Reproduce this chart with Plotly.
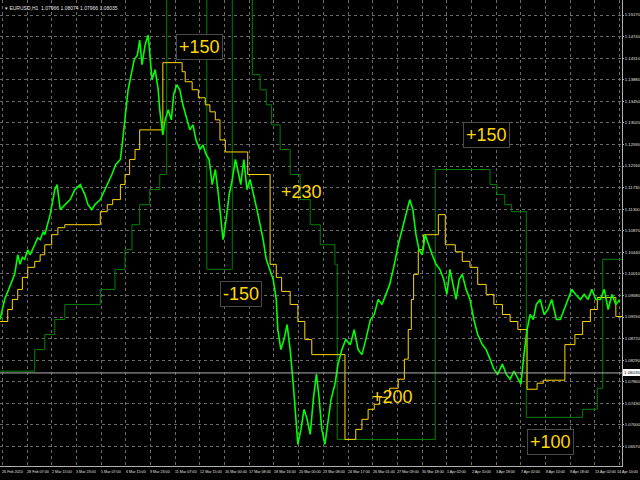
import plotly.graph_objects as go

# ---------------- data (bar index on x, price on y) ----------------
close_bar = [0, 6, 19, 23, 26, 29, 32, 36, 39, 45, 49, 52, 56, 58, 62, 65, 71, 74, 78, 84, 91, 97, 104, 110, 114,
             119, 123, 130, 133, 140, 145, 150, 156, 159, 162, 166, 170, 174, 178, 181, 184, 188, 192, 194, 197,
             201, 205, 207, 211, 214, 218, 222, 225, 229, 233, 237, 241, 246, 250, 254, 259, 263, 267, 271, 275,
             279, 283, 286, 289, 293, 297, 301, 305, 308, 312, 316, 320, 324, 329, 333, 337, 341, 345, 350, 354,
             358, 360, 364, 368, 372, 376, 380, 384, 386, 390, 394, 398, 402, 406, 410, 413, 417, 421, 425, 429,
             434, 438, 443, 448, 454, 459, 464, 469, 474, 480, 485, 490, 495, 500, 505, 511, 516, 521, 526, 531,
             535, 539, 543, 547, 551, 555, 560, 565, 570, 575, 579, 583, 587, 591, 595, 599, 604, 609, 614, 619,
             625, 630, 635, 640, 645, 651, 656, 661, 666, 671, 675, 679, 683, 687, 691, 695, 700, 705, 710, 715,
             721, 726, 731, 736, 741, 746, 752, 757, 762, 767, 772, 778, 783, 788, 793, 798, 803]
close_px = [1.0910, 1.0950, 1.1000, 1.1039, 1.1020, 1.1034, 1.1030, 1.1049, 1.1039, 1.1059, 1.1073, 1.1069,
            1.1085, 1.1079, 1.1105, 1.1119, 1.1169, 1.1179, 1.1129, 1.1139, 1.1149, 1.1169, 1.1179, 1.1159,
            1.1139, 1.1129, 1.1139, 1.1149, 1.1159, 1.1179, 1.1199, 1.1219, 1.1229, 1.1268, 1.1308, 1.1368,
            1.1398, 1.1428, 1.1437, 1.1467, 1.1418, 1.1457, 1.1477, 1.1437, 1.1388, 1.1408, 1.1368, 1.1328,
            1.1278, 1.1308, 1.1328, 1.1308, 1.1358, 1.1378, 1.1368, 1.1338, 1.1318, 1.1288, 1.1298, 1.1268,
            1.1249, 1.1258, 1.1239, 1.1229, 1.1179, 1.1209, 1.1159, 1.1119, 1.1069, 1.1109, 1.1159, 1.1189,
            1.1229, 1.1209, 1.1179, 1.1229, 1.1169, 1.1189, 1.1159, 1.1129, 1.1099, 1.1069, 1.1030, 1.1010,
            1.0990, 1.0950, 1.0890, 1.0850, 1.0870, 1.0900, 1.0850, 1.0781, 1.0711, 1.0661, 1.0691, 1.0731,
            1.0711, 1.0681, 1.0751, 1.0801, 1.0761, 1.0691, 1.0661, 1.0711, 1.0751, 1.0781, 1.0821, 1.0850,
            1.0870, 1.0860, 1.0890, 1.0850, 1.0840, 1.0870, 1.0910, 1.0920, 1.0950, 1.0940, 1.0960, 1.0980,
            1.1020, 1.1059, 1.1089, 1.1119, 1.1149, 1.1129, 1.1079, 1.1049, 1.1039, 1.1079, 1.1059, 1.1039,
            1.1020, 1.1010, 1.0990, 1.0960, 1.1010, 1.0980, 1.0950, 1.0990, 1.1000, 1.0970, 1.0950, 1.0910,
            1.0880, 1.0860, 1.0850, 1.0831, 1.0811, 1.0801, 1.0821, 1.0801, 1.0791, 1.0807, 1.0791, 1.0781,
            1.0840, 1.0890, 1.0920, 1.0910, 1.0940, 1.0950, 1.0920, 1.0930, 1.0950, 1.0910, 1.0910, 1.0930,
            1.0950, 1.0970, 1.0960, 1.0950, 1.0960, 1.0950, 1.0970, 1.0950, 1.0950, 1.0970, 1.0930, 1.0960,
            1.0940, 1.0950]

fast_bar = [0, 10, 16, 23, 29, 36, 45, 52, 58, 67, 75, 84, 130, 139, 146, 156, 162, 168, 175, 181, 211, 236,
            240, 249, 257, 266, 272, 279, 285, 292, 321, 350, 358, 365, 376, 386, 395, 404, 447, 461, 469,
            477, 485, 492, 505, 516, 524, 529, 533, 536, 542, 549, 568, 577, 590, 599, 609, 619, 630, 640,
            651, 661, 671, 683, 696, 704, 732, 745, 755, 765, 774, 798, 806]
fast_px = [1.0906, 1.0930, 1.0950, 1.0970, 1.0994, 1.1014, 1.1026, 1.1039, 1.1059, 1.1079, 1.1093, 1.1099,
           1.1125, 1.1139, 1.1149, 1.1179, 1.1199, 1.1229, 1.1249, 1.1288, 1.1422, 1.1404, 1.1384, 1.1368,
           1.1352, 1.1338, 1.1324, 1.1308, 1.1268, 1.1244, 1.1199, 1.1020, 1.0994, 1.0966, 1.0940, 1.0906,
           1.0870, 1.0840, 1.0671, 1.0691, 1.0711, 1.0731, 1.0741, 1.0755, 1.0773, 1.0791, 1.0831, 1.0890,
           1.0950, 1.1000, 1.1049, 1.1079, 1.1119, 1.1059, 1.1045, 1.1026, 1.1014, 1.0980, 1.0960, 1.0940,
           1.0920, 1.0906, 1.0890, 1.0771, 1.0783, 1.0789, 1.0860, 1.0880, 1.0906, 1.0930, 1.0954, 1.0916,
           1.0916]

slow_bar = [0, 45, 58, 71, 84, 130, 149, 162, 171, 181, 194, 207, 216, 268, 301, 327, 337, 345, 352, 363,
            376, 389, 402, 415, 434, 437, 564, 635, 644, 654, 663, 682, 755, 774, 781, 806]
slow_px = [1.0807, 1.0850, 1.0880, 1.0910, 1.0940, 1.0970, 1.1010, 1.1049, 1.1099, 1.1139, 1.1169, 1.1199,
           1.1587, 1.1010, 1.1587, 1.1398, 1.1368, 1.1338, 1.1298, 1.1249, 1.1199, 1.1149, 1.1099, 1.1059,
           1.1020, 1.0671, 1.1209, 1.1179, 1.1159, 1.1139, 1.1125, 1.0715, 1.0731, 1.0773, 1.1030, 1.1030]

time_labels = ["26 Feb 2020", "28 Feb 07:00", "2 Mar 15:00", "3 Mar 23:00", "5 Mar 07:00", "6 Mar 15:00",
               "9 Mar 23:00", "11 Mar 07:00", "12 Mar 15:00", "16 Mar 00:00", "17 Mar 08:00", "18 Mar 16:00",
               "20 Mar 00:00", "23 Mar 08:00", "24 Mar 17:00", "26 Mar 01:00", "27 Mar 09:00", "30 Mar 18:00",
               "1 Apr 02:00", "2 Apr 10:00", "3 Apr 18:00", "7 Apr 02:00", "8 Apr 10:00", "9 Apr 18:00",
               "13 Apr 02:00", "14 Apr 10:00"]
time_label_bar = [3 + 32 * i for i in range(len(time_labels))]

price_ticks = [1.15170, 1.14740, 1.14310, 1.13880, 1.13450, 1.13020, 1.12590, 1.12160, 1.11730, 1.11300,
               1.10870, 1.10440, 1.10010, 1.09580, 1.09150, 1.08720, 1.08290, 1.07860, 1.07430, 1.07000,
               1.06570, 1.06140]

current_price = 1.08035
title_text = "EURUSD,H1  1.07966 1.08074 1.07966 1.08035"

trade_labels = ["+150", "+230", "-150", "+200", "+150", "+100"]
trade_bar = [258, 391, 312, 509, 631, 713]
trade_px = [1.1453, 1.1165, 1.0960, 1.0755, 1.1278, 1.0665]
trade_boxed = [True, False, True, False, True, True]

# ---------------- figure ----------------
GRID = "#6a6a6a"
FONT = "Liberation Sans"
TSIZE = 3.7
fig = go.Figure()
fig.add_trace(go.Scatter(x=slow_bar, y=slow_px, mode="lines", line=dict(color="#008000", width=1, shape="hv"),
                         hoverinfo="skip"))
fig.add_trace(go.Scatter(x=fast_bar, y=fast_px, mode="lines", line=dict(color="#FFD700", width=1, shape="hv"),
                         hoverinfo="skip"))
fig.add_trace(go.Scatter(x=close_bar, y=close_px, mode="lines", line=dict(color="#00FF00", width=1.6),
                         hoverinfo="skip"))

# current price line and its label
fig.add_shape(type="line", xref="paper", x0=0, x1=1, yref="y", y0=current_price, y1=current_price,
              line=dict(color="#b0b0b0", width=1))
fig.add_annotation(xref="paper", x=1, yref="y", y=current_price, text=f"{current_price:.5f}",
                   showarrow=False, xanchor="left", yanchor="middle", xshift=1,
                   font=dict(family=FONT, size=4.4, color="#000000"),
                   bgcolor="#ffffff", bordercolor="#ffffff", borderpad=0)

for t, xb, yp, boxed in zip(trade_labels, trade_bar, trade_px, trade_boxed):
    fig.add_annotation(x=xb, y=yp, text=t, showarrow=False,
                       font=dict(family=FONT, size=18, color="#FFD700"),
                       bgcolor="#000000" if boxed else "rgba(0,0,0,0)",
                       bordercolor="#4a4a4a" if boxed else "rgba(0,0,0,0)", borderwidth=1, borderpad=2)

for i, (t, xb) in enumerate(zip(time_labels, time_label_bar)):
    if i == len(time_labels) - 1:
        # the last label is pushed against the right edge of the window, as in the terminal
        fig.add_annotation(x=640 / 622, xref="paper", y=0, yref="paper", text=t, showarrow=False,
                           xanchor="right", yanchor="top", yshift=-2,
                           font=dict(family=FONT, size=TSIZE, color="#e0e0e0"))
    else:
        fig.add_annotation(x=xb, xref="x", y=0, yref="paper", text=t, showarrow=False,
                           xanchor="left", yanchor="top", yshift=-2, xshift=-2,
                           font=dict(family=FONT, size=TSIZE, color="#e0e0e0"))

fig.add_annotation(xref="paper", yref="paper", x=0, y=1, xanchor="left", yanchor="top", xshift=3, yshift=-3,
                   text="▾ " + title_text, showarrow=False,
                   font=dict(family=FONT, size=5, color="#e0e0e0"))

fig.update_layout(
    width=640, height=480,
    margin=dict(l=0, r=18, t=0, b=14, autoexpand=False),
    paper_bgcolor="#000000", plot_bgcolor="#000000",
    showlegend=False,
    xaxis=dict(range=[0, 806], tickvals=time_label_bar, showticklabels=False, ticks="",
               showgrid=True, gridcolor=GRID, griddash="dot", gridwidth=1, zeroline=False,
               showline=True, linecolor="#b0b0b0", linewidth=1, mirror=True),
    yaxis=dict(range=[1.0618, 1.15469], side="right", tickvals=price_ticks,
               ticktext=[f"{v:.5f}" for v in price_ticks], ticks="outside", ticklen=1, tickcolor="#b0b0b0",
               tickfont=dict(family=FONT, size=4.2, color="#e0e0e0"),
               showgrid=True, gridcolor=GRID, griddash="dot", gridwidth=1, zeroline=False,
               showline=True, linecolor="#b0b0b0", linewidth=1, mirror=True),
)

fig.write_html("out.html", config={"displayModeBar": False},
               post_script="document.body.style.margin='0';document.body.style.overflow='hidden';")
